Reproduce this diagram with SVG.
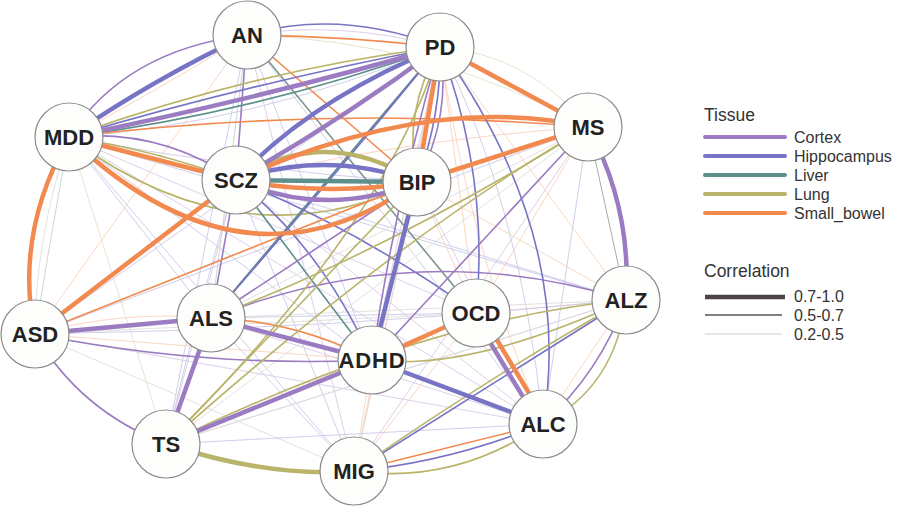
<svg xmlns="http://www.w3.org/2000/svg" width="902" height="513" viewBox="0 0 902 513">
<style>
.e{fill:none;stroke-linecap:round}
.c{stroke:#9b7bc1}.h{stroke:#7774c6}.l{stroke:#5d8f8c}.g{stroke:#bab46a}.s{stroke:#f28a4f}.x{stroke:#a9aaa0}.q{stroke:#7f9590}
.t{stroke-width:4.5}.m{stroke-width:1.6}.f{stroke-width:0.9;opacity:0.38}
.node circle{fill:#fdfdfb;stroke:#8c8c8c;stroke-width:1.2}
.node text{font-family:"Liberation Sans",Arial,sans-serif;font-weight:bold;font-size:22px;fill:#222;text-anchor:middle}
.lg{font-family:"Liberation Sans",Arial,sans-serif;fill:#333}
.lt{font-size:17.5px}.ll{font-size:16px}
</style>
<rect width="902" height="513" fill="#ffffff"/>
<g id="connectors" class="e">
<g class="f">
<path class="h" d="M69 137 L211 318"/>
<path class="h" d="M69 137 L372 360"/>
<path class="c" d="M69 137 L476 313"/>
<path class="g" d="M69 137 L166 444"/>
<path class="h" d="M69 137 L354 471"/>
<path class="c" d="M69 137 L543 424"/>
<path class="h" d="M69 137 L626 300"/>
<path class="l" d="M69 137 Q50 240 35 334"/>
<path class="x" d="M69 137 Q35 240 35 334"/>
<path class="h" d="M69 137 Q240 170 417 182"/>
<path class="s" d="M69 137 Q150 95 247 35"/>
<path class="h" d="M69 137 Q250 125 440 47"/>
<path class="l" d="M247 35 L211 318"/>
<path class="h" d="M247 35 L372 360"/>
<path class="h" d="M247 35 L543 424"/>
<path class="g" d="M247 35 Q430 40 588 127"/>
<path class="s" d="M247 35 L35 334"/>
<path class="h" d="M247 35 L166 444"/>
<path class="c" d="M247 35 L354 471"/>
<path class="c" d="M247 35 Q340 20 440 47"/>
<path class="s" d="M440 47 L626 300"/>
<path class="c" d="M440 47 L372 360"/>
<path class="s" d="M440 47 L354 471"/>
<path class="h" d="M440 47 L35 334"/>
<path class="s" d="M440 47 L476 313"/>
<path class="g" d="M440 47 Q530 55 588 127"/>
<path class="h" d="M440 47 Q520 200 543 424"/>
<path class="s" d="M440 47 Q470 250 543 424"/>
<path class="h" d="M236 180 L626 300"/>
<path class="c" d="M236 180 L543 424"/>
<path class="h" d="M236 180 L354 471"/>
<path class="c" d="M236 180 L166 444"/>
<path class="x" d="M236 180 L35 334"/>
<path class="s" d="M417 182 L626 300"/>
<path class="h" d="M417 182 L166 444"/>
<path class="s" d="M417 182 L354 471"/>
<path class="c" d="M417 182 L543 424"/>
<path class="s" d="M417 182 L476 313"/>
<path class="h" d="M417 182 L211 318"/>
<path class="x" d="M417 182 L35 334"/>
<path class="s" d="M588 127 L476 313"/>
<path class="h" d="M588 127 L543 424"/>
<path class="c" d="M588 127 L354 471"/>
<path class="h" d="M588 127 L35 334"/>
<path class="x" d="M588 127 L211 318"/>
<path class="s" d="M588 127 Q400 140 236 180"/>
<path class="s" d="M626 300 L476 313"/>
<path class="h" d="M626 300 Q330 330 35 334"/>
<path class="c" d="M626 300 L166 444"/>
<path class="x" d="M626 300 L211 318"/>
<path class="s" d="M626 300 L543 424"/>
<path class="h" d="M476 313 L211 318"/>
<path class="c" d="M476 313 L166 444"/>
<path class="s" d="M476 313 L354 471"/>
<path class="x" d="M476 313 L35 334"/>
<path class="x" d="M476 313 L372 360"/>
<path class="s" d="M372 360 L354 471"/>
<path class="x" d="M372 360 L166 444"/>
<path class="h" d="M211 318 L354 471"/>
<path class="c" d="M211 318 L543 424"/>
<path class="x" d="M35 334 L354 471"/>
<path class="c" d="M35 334 L543 424"/>
<path class="s" d="M35 334 Q120 310 211 318"/>
<path class="s" d="M35 334 L372 360"/>
<path class="h" d="M166 444 L543 424"/>
<path class="x" d="M166 444 L626 300"/>
<path class="c" d="M354 471 L626 300"/>
<path class="x" d="M354 471 L417 182"/>
<path class="x" d="M166 444 L588 127"/>
<path class="h" d="M166 444 Q200 300 236 180"/>
<path class="s" d="M166 444 L476 313"/>
</g>
<g class="m">
<path class="c" d="M69 137 Q125 50 247 35"/>
<path class="h" d="M247 35 Q340 8 440 47"/>
<path class="s" d="M247 35 Q343 36 440 47"/>
<path class="s" d="M247 35 L417 182"/>
<path class="c" d="M247 35 L236 180"/>
<path class="q" d="M247 35 L476 313"/>
<path class="g" d="M69 137 Q255 70 440 47"/>
<path class="h" d="M69 137 Q255 82 440 47"/>
<path class="l" d="M69 137 Q255 113 440 47"/>
<path class="s" d="M69 137 Q330 105 588 127"/>
<path class="c" d="M69 137 Q160 128 236 180"/>
<path class="g" d="M69 137 Q155 150 236 180"/>
<path class="g" d="M69 137 Q240 266 417 182"/>
<path class="s" d="M236 180 Q330 125 440 47"/>
<path class="c" d="M417 182 Q452 115 440 47"/>
<path class="h" d="M417 182 Q442 113 440 47"/>
<path class="g" d="M417 182 Q402 112 440 47"/>
<path class="l" d="M236 180 L372 360"/>
<path class="h" d="M236 180 Q320 245 372 360"/>
<path class="h" d="M236 180 Q360 230 476 313"/>
<path class="c" d="M236 180 L211 318"/>
<path class="s" d="M211 318 Q295 320 372 360"/>
<path class="c" d="M35 334 Q205 368 372 360"/>
<path class="c" d="M35 334 Q80 411 166 444"/>
<path class="c" d="M211 318 Q420 235 626 300"/>
<path class="g" d="M626 300 Q470 372 372 360"/>
<path class="c" d="M626 300 Q600 372 543 424"/>
<path class="g" d="M626 300 Q615 388 543 424"/>
<path class="h" d="M440 47 Q575 235 543 424"/>
<path class="h" d="M440 47 Q490 180 476 313"/>
<path class="c" d="M440 47 L211 318"/>
<path class="g" d="M440 47 Q390 220 166 444"/>
<path class="g" d="M588 127 Q390 250 211 318"/>
<path class="g" d="M588 127 Q400 235 166 444"/>
<path class="c" d="M588 127 L372 360"/>
<path class="g" d="M166 444 L417 182"/>
<path class="g" d="M166 444 Q420 320 626 300"/>
<path class="s" d="M543 424 L354 471"/>
<path class="h" d="M543 424 Q450 462 354 471"/>
<path class="g" d="M543 424 Q455 485 354 471"/>
<path class="h" d="M626 300 L354 471"/>
<path class="g" d="M626 300 Q500 370 354 471"/>
<path class="s" d="M35 334 L417 182"/>
<path class="l" d="M211 318 L440 47"/>
<path class="h" d="M211 318 Q340 170 440 47"/>
<path class="c" d="M211 318 L417 182"/>
<path class="c" d="M372 360 Q395 200 440 47"/>
</g>
<g class="t">
<path class="h" d="M69 137 Q152 80 247 35"/>
<path class="c" d="M69 137 Q255 100 440 47"/>
<path class="s" d="M69 137 L236 180"/>
<path class="s" d="M69 137 Q245 305 417 182"/>
<path class="s" d="M69 137 Q14 235 35 334"/>
<path class="g" d="M236 180 Q326 123 417 182"/>
<path class="h" d="M236 180 Q326 149 417 182"/>
<path class="l" d="M236 180 L417 182"/>
<path class="s" d="M236 180 Q326 197 417 182"/>
<path class="c" d="M236 180 Q326 219 417 182"/>
<path class="h" d="M236 180 Q310 100 440 47"/>
<path class="c" d="M236 180 Q345 118 440 47"/>
<path class="s" d="M236 180 Q430 92 588 127"/>
<path class="s" d="M236 180 L35 334"/>
<path class="s" d="M417 182 L440 47"/>
<path class="s" d="M417 182 L588 127"/>
<path class="s" d="M440 47 L588 127"/>
<path class="h" d="M417 182 L372 360"/>
<path class="s" d="M372 360 L476 313"/>
<path class="c" d="M372 360 L211 318"/>
<path class="c" d="M372 360 L166 444"/>
<path class="h" d="M372 360 L543 424"/>
<path class="c" d="M211 318 L35 334"/>
<path class="c" d="M211 318 L166 444"/>
<path class="g" d="M166 444 Q270 478 354 471"/>
<path class="c" d="M473 314 L540 425"/>
<path class="s" d="M480 312 L547 423"/>
<path class="c" d="M588 127 Q632 208 626 300"/>
</g>
<path class="x" stroke-width="1" d="M588 127 L626 300"/>
</g>
<g id="node-AN" class="node"><circle cx="247" cy="35" r="34"/><text x="247" y="43">AN</text></g>
<g id="node-PD" class="node"><circle cx="440" cy="47" r="34"/><text x="440" y="55">PD</text></g>
<g id="node-MDD" class="node"><circle cx="69" cy="137" r="34"/><text x="69" y="145">MDD</text></g>
<g id="node-MS" class="node"><circle cx="588" cy="127" r="34"/><text x="588" y="135">MS</text></g>
<g id="node-SCZ" class="node"><circle cx="236" cy="180" r="34"/><text x="236" y="188">SCZ</text></g>
<g id="node-BIP" class="node"><circle cx="417" cy="182" r="34"/><text x="417" y="190">BIP</text></g>
<g id="node-ALZ" class="node"><circle cx="626" cy="300" r="34"/><text x="626" y="308">ALZ</text></g>
<g id="node-OCD" class="node"><circle cx="476" cy="313" r="34"/><text x="476" y="321">OCD</text></g>
<g id="node-ASD" class="node"><circle cx="35" cy="334" r="34"/><text x="35" y="342">ASD</text></g>
<g id="node-ALS" class="node"><circle cx="211" cy="318" r="34"/><text x="211" y="326">ALS</text></g>
<g id="node-ADHD" class="node"><circle cx="372" cy="360" r="34"/><text x="372" y="368" letter-spacing="0.8">ADHD</text></g>
<g id="node-ALC" class="node"><circle cx="543" cy="424" r="34"/><text x="543" y="432">ALC</text></g>
<g id="node-TS" class="node"><circle cx="166" cy="444" r="34"/><text x="166" y="452">TS</text></g>
<g id="node-MIG" class="node"><circle cx="354" cy="471" r="34"/><text x="354" y="479">MIG</text></g>
<g id="legend">
<text class="lg lt" x="704" y="121">Tissue</text>
<g class="e" stroke-width="4">
<line class="c" x1="705" y1="137" x2="785" y2="137"/>
<line class="h" x1="705" y1="156" x2="785" y2="156"/>
<line class="l" x1="705" y1="175" x2="785" y2="175"/>
<line class="g" x1="705" y1="194" x2="785" y2="194"/>
<line class="s" x1="705" y1="213" x2="785" y2="213"/>
</g>
<text class="lg ll" x="794" y="142.5">Cortex</text>
<text class="lg ll" x="794" y="161.5">Hippocampus</text>
<text class="lg ll" x="794" y="180.5">Liver</text>
<text class="lg ll" x="794" y="199.5">Lung</text>
<text class="lg ll" x="794" y="218.5">Small_bowel</text>
<text class="lg lt" x="704" y="276.5">Correlation</text>
<line x1="705" y1="297" x2="785" y2="297" stroke="#4a4542" stroke-width="4.5"/>
<line x1="705" y1="315" x2="782" y2="315" stroke="#555" stroke-width="1.5"/>
<line x1="705" y1="334" x2="782" y2="334" stroke="#c8c8c8" stroke-width="0.9"/>
<text class="lg ll" x="794" y="302">0.7-1.0</text>
<text class="lg ll" x="794" y="321">0.5-0.7</text>
<text class="lg ll" x="794" y="340">0.2-0.5</text>
</g>
</svg>
